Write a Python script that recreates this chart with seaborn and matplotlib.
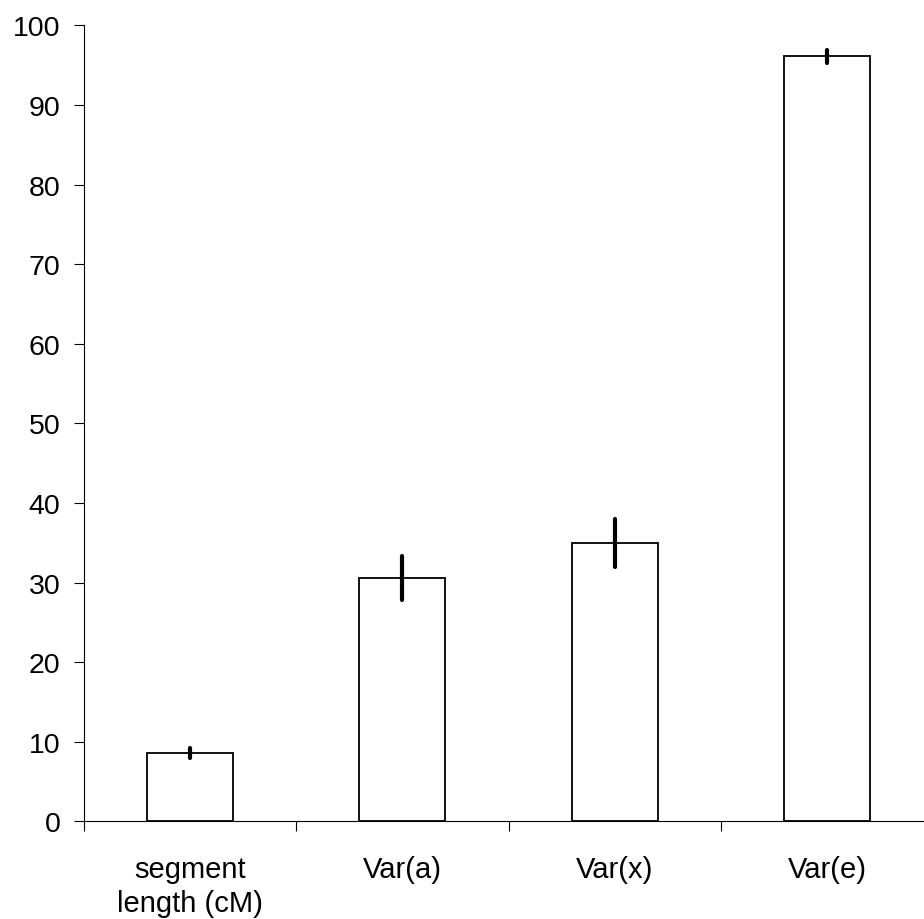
import matplotlib
matplotlib.use("Agg")
import matplotlib.pyplot as plt
import seaborn as sns
import pandas as pd
import numpy as np

categories = ["segment\nlength (cM)", "Var(a)", "Var(x)", "Var(e)"]
values = [8.6, 30.6, 35.0, 96.1]
errors = [0.6, 2.8, 3.0, 0.85]
yticks = [0, 10, 20, 30, 40, 50, 60, 70, 80, 90, 100]

sns.set_theme(style="white")
plt.rcParams['font.family'] = ['Liberation Sans', 'DejaVu Sans']
plt.rcParams['text.color'] = 'black'
plt.rcParams['xtick.color'] = 'black'
plt.rcParams['ytick.color'] = 'black'
plt.rcParams['xtick.labelcolor'] = 'black'
plt.rcParams['ytick.labelcolor'] = 'black'

df = pd.DataFrame({"cat": categories, "val": values, "err": errors})

fig = plt.figure(figsize=(9.24, 9.2), dpi=100)
ax = fig.add_axes([0.0904, 0.1061, 0.9096, 0.8652])

sns.barplot(data=df, x="cat", y="val", order=categories, color="white",
            edgecolor="black", linewidth=1.3, width=0.404, errorbar=None,
            saturation=1, ax=ax)
for p in ax.patches:
    p.set_facecolor("white")

xpos = np.arange(len(categories))
ax.errorbar(xpos, df["val"], yerr=df["err"], fmt="none", ecolor="black",
            elinewidth=3, capsize=0, zorder=5)
for lc in ax.collections:
    try:
        lc.set_capstyle("round")
    except Exception:
        pass

ax.set_ylim(0, 100)
ax.set_xlim(-0.5, 3.455)
ax.set_yticks(yticks)
ax.set_yticklabels([str(t) for t in yticks])

ax.set_xticks(xpos, minor=True)
ax.set_xticklabels(categories, minor=True)
ax.set_xticks([-0.5, 0.5, 1.5, 2.5], minor=False)
ax.set_xticklabels([], minor=False)

ax.tick_params(axis="y", which="major", length=7, width=0.8, colors="black",
               pad=9.5, labelsize=20.5, direction="out", left=True)
ax.tick_params(axis="x", which="major", length=7, width=0.8, colors="black",
               direction="out", bottom=True)
ax.tick_params(axis="x", which="minor", length=0, pad=24, labelsize=21,
               colors="black", bottom=True)
for lab in ax.get_xticklabels(minor=True):
    lab.set_linespacing(1.3)
    lab.set_color("black")

for s in ["top", "right"]:
    ax.spines[s].set_visible(False)
for s in ["left", "bottom"]:
    ax.spines[s].set_color("black")
    ax.spines[s].set_linewidth(0.8)

ax.set_xlabel("")
ax.set_ylabel("")
ax.grid(False)

fig.savefig("out.png", dpi=100)
